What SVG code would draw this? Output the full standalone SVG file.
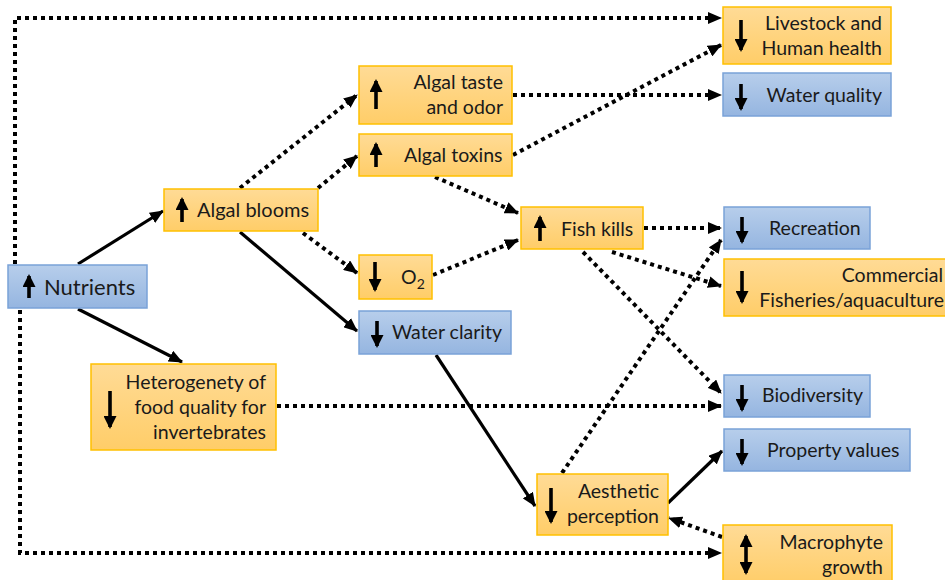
<svg xmlns="http://www.w3.org/2000/svg" width="945" height="580" viewBox="0 0 945 580">
  <defs>
    <linearGradient id="gOrange" x1="0" y1="0" x2="0" y2="1">
      <stop offset="0" stop-color="#FFDB96"/>
      <stop offset="1" stop-color="#FFCD68"/>
    </linearGradient>
    <linearGradient id="gBlue" x1="0" y1="0" x2="0" y2="1">
      <stop offset="0" stop-color="#B7CEEB"/>
      <stop offset="1" stop-color="#95B5E0"/>
    </linearGradient>
    <marker id="head" markerUnits="userSpaceOnUse" markerWidth="14" markerHeight="12" refX="13" refY="6" orient="auto">
      <path d="M0,0 L14,6 L0,12 z" fill="#000"/>
    </marker>
    <marker id="nib" markerUnits="userSpaceOnUse" markerWidth="13" markerHeight="13" refX="11" refY="6.5" orient="auto">
      <path d="M0,0 L13,6.5 L0,13 z" fill="#000"/>
    </marker>
    <marker id="nibStart" markerUnits="userSpaceOnUse" markerWidth="13" markerHeight="13" refX="2" refY="6.5" orient="auto">
      <path d="M13,0 L0,6.5 L13,13 z" fill="#000"/>
    </marker>
  </defs>
  <style>
    .org { fill: url(#gOrange); stroke: #FFC000; stroke-width: 1.5; }
    .blu { fill: url(#gBlue); stroke: #7AA2D8; stroke-width: 1.5; }
    text { font-family: Lato, "Open Sans", "Liberation Sans", sans-serif; font-size: 19.5px; fill: #1a1a1a; }
    .end { text-anchor: end; }
    .sym { stroke: #000; stroke-width: 3.6; fill: none; marker-end: url(#nib); }
    .sym2 { stroke: #000; stroke-width: 3.6; fill: none; marker-end: url(#nib); marker-start: url(#nibStart); }
    .solid { stroke: #000; stroke-width: 3.2; fill: none; marker-end: url(#head); }
    .dot { stroke: #000; stroke-width: 4; stroke-dasharray: 4 4; fill: none; marker-end: url(#head); }
  </style>

  <!-- connectors -->
  <g id="connectors">
    <path class="solid" d="M78,264 L163,211"/>
    <path class="solid" d="M78,309 L182,362"/>
    <path class="solid" d="M240,232 L357,331"/>
    <path class="solid" d="M436,355 L535,506"/>
    <path class="solid" d="M668,503 L722,451"/>

    <path class="dot" d="M15,264 L15,18 L721,18"/>
    <path class="dot" d="M20,310 L20,553 L721,553"/>
    <path class="dot" d="M240,188 L357,95"/>
    <path class="dot" d="M318,188 L357,156"/>
    <path class="dot" d="M303,233 L357,273"/>
    <path class="dot" d="M513,95 L721,95"/>
    <path class="dot" d="M513,155 L721,45"/>
    <path class="dot" d="M435,177 L518,213"/>
    <path class="dot" d="M433,275 L518,240"/>
    <path class="dot" d="M644,228 L721,228"/>
    <path class="dot" d="M612,252 L721,286"/>
    <path class="dot" d="M583,252 L721,393"/>
    <path class="dot" d="M277,406 L721,406"/>
    <path class="dot" d="M562,473 L721,240"/>
    <path class="dot" d="M722,537 L669,518"/>
  </g>

  <g id="nutrients">
    <rect class="blu" x="8" y="265" width="139" height="43"/>
    <path class="sym" d="M29,298 L29,276"/>
    <text x="44" y="295" style="font-size:22px">Nutrients</text>
  </g>

  <g id="algal-blooms">
    <rect class="org" x="164" y="189" width="154" height="42"/>
    <path class="sym" d="M182,222 L182,199"/>
    <text x="197" y="217" style="font-size:20px">Algal blooms</text>
  </g>

  <g id="algal-taste">
    <rect class="org" x="359" y="66" width="153" height="58"/>
    <path class="sym" d="M376,109 L376,81"/>
    <text class="end" x="503" y="89">Algal taste</text>
    <text class="end" x="503" y="114">and odor</text>
  </g>

  <g id="algal-toxins">
    <rect class="org" x="359" y="134" width="153" height="42"/>
    <path class="sym" d="M376,167 L376,144"/>
    <text x="404" y="162">Algal toxins</text>
  </g>

  <g id="oxygen">
    <rect class="org" x="359" y="255" width="73" height="44"/>
    <path class="sym" d="M375,262 L375,290"/>
    <text x="401" y="284">O<tspan dy="5" style="font-size:14px">2</tspan></text>
  </g>

  <g id="water-clarity">
    <rect class="blu" x="359" y="311" width="152" height="43"/>
    <path class="sym" d="M377,321 L377,346"/>
    <text x="392" y="339">Water clarity</text>
  </g>

  <g id="fish-kills">
    <rect class="org" x="521" y="207" width="122" height="42"/>
    <path class="sym" d="M540,241 L540,217"/>
    <text x="561" y="236">Fish kills</text>
  </g>

  <g id="heterogeneity">
    <rect class="org" x="91" y="364" width="185" height="86"/>
    <path class="sym" d="M110,391 L110,427"/>
    <text class="end" x="266" y="389">Heterogenety  of</text>
    <text class="end" x="266" y="414">food quality for</text>
    <text class="end" x="266" y="439">invertebrates</text>
  </g>

  <g id="aesthetic">
    <rect class="org" x="537" y="474" width="131" height="61"/>
    <path class="sym" d="M551,488 L551,522"/>
    <text class="end" x="659" y="498">Aesthetic</text>
    <text class="end" x="659" y="523">perception</text>
  </g>

  <g id="livestock">
    <rect class="org" x="723" y="7" width="168" height="57"/>
    <path class="sym" d="M741,20 L741,50"/>
    <text class="end" x="882" y="30">Livestock and</text>
    <text class="end" x="882" y="55">Human health</text>
  </g>

  <g id="water-quality">
    <rect class="blu" x="723" y="73" width="168" height="43"/>
    <path class="sym" d="M741,84 L741,109"/>
    <text class="end" x="882" y="102">Water quality</text>
  </g>

  <g id="recreation">
    <rect class="blu" x="724" y="207" width="146" height="42"/>
    <path class="sym" d="M742,217 L742,242"/>
    <text x="769" y="235">Recreation</text>
  </g>

  <g id="fisheries">
    <rect class="org" x="724" y="259" width="226" height="57"/>
    <path class="sym" d="M742,271 L742,302"/>
    <text class="end" x="943" y="282">Commercial</text>
    <text class="end" x="944" y="307">Fisheries/aquaculture</text>
  </g>

  <g id="biodiversity">
    <rect class="blu" x="724" y="375" width="146" height="42"/>
    <path class="sym" d="M742,385 L742,410"/>
    <text x="762" y="402">Biodiversity</text>
  </g>

  <g id="property-values">
    <rect class="blu" x="724" y="429" width="186" height="42"/>
    <path class="sym" d="M742,439 L742,464"/>
    <text x="767" y="457">Property values</text>
  </g>

  <g id="macrophyte">
    <rect class="org" x="723" y="525" width="169" height="60"/>
    <path class="sym2" d="M746,536 L746,573"/>
    <text class="end" x="883" y="549">Macrophyte</text>
    <text class="end" x="883" y="574">growth</text>
  </g>
</svg>
